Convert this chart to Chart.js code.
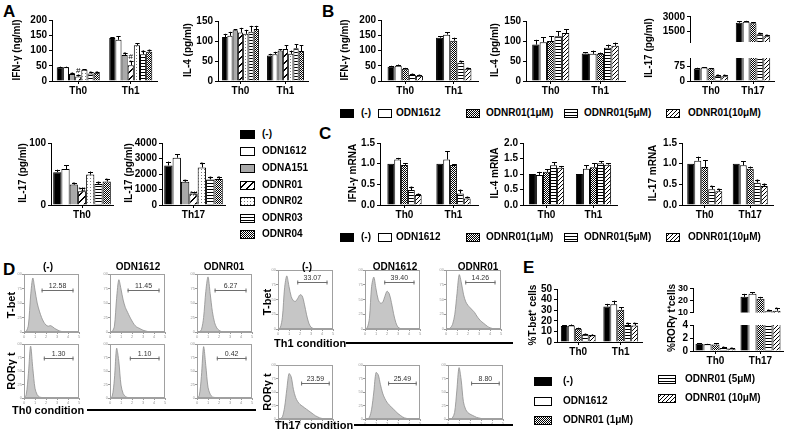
<!DOCTYPE html>
<html>
<head>
<meta charset="utf-8">
<script src="https://cdn.jsdelivr.net/npm/chart.js@4.4.0/dist/chart.umd.min.js"></script>
<style>
  body { margin: 0; background: #fff; font-family: "Liberation Sans", Arial, Helvetica, sans-serif; }
  #fig { position: relative; width: 786px; height: 435px; overflow: hidden; background: #fff; }
  #fig canvas { position: absolute; }
  .t { position: absolute; white-space: nowrap; color: #000; font-weight: bold; line-height: 1; }
  .letter { font-size: 17px; }
  .yt { font-size: 10px; transform: translate(-50%, -50%) rotate(-90deg); }
  .yd { font-size: 11px; transform: translate(-50%, -50%) rotate(-90deg); }
  .hd { font-size: 10px; transform: translate(-50%, -50%); }
  .lg { font-size: 10px; transform: translateY(-50%); }
  .cond { font-size: 11px; transform: translateY(-50%); }
  .rule { position: absolute; height: 2px; background: #000; }
</style>
</head>
<body>
<div id="fig"></div>
<script>
// ---------- data ----------
const groupsTh1  = ['Th0', 'Th1'];
const groupsTh17 = ['Th0', 'Th17'];
const seriesA = ['(-)', 'ODN1612', 'ODNA151', 'ODNR01', 'ODNR02', 'ODNR03', 'ODNR04'];
const seriesB = ['(-)', 'ODN1612', 'ODNR01(1μM)', 'ODNR01(5μM)', 'ODNR01(10μM)'];
const seriesE = ['(-)', 'ODN1612', 'ODNR01 (1μM)', 'ODNR01 (5μM)', 'ODNR01 (10μM)'];

// A  (one row per series, one value per group)
const aIfngVals = [[45, 141], [45, 135], [23, 85], [15, 52], [37, 117], [25, 88], [27, 96]];
const aIfngErrs = [[2, 3], [2, 12], [4, 8], [5, 12], [2, 7], [5, 12], [4, 5]];
const aIfngMarks = [['', ''], ['', ''], ['*', '*'], ['#\n*', '#\n*'], ['', ''], ['*', '*'], ['*', '*']];
const aIl4Vals = [[110, 64], [113, 67], [127, 76], [121, 80], [118, 68], [123, 82], [130, 75]];
const aIl4Errs = [[8, 4], [10, 6], [3, 4], [12, 10], [10, 8], [15, 10], [8, 15]];
const aIl17Th0Vals = [[53], [58], [33], [22], [49], [34], [38]];
const aIl17Th0Errs = [[4], [6], [3], [6], [5], [3], [4]];
const aIl17Th0Marks = [[''], [''], ['*'], ['*#'], [''], ['*'], ['*']];
const aIl17Th17Vals = [[2550], [3050], [1500], [750], [2420], [1650], [1680]];
const aIl17Th17Errs = [[250], [230], [100], [80], [300], [150], [150]];
const aIl17Th17Marks = [[''], [''], ['*'], ['*#'], ['*'], ['*'], ['*']];

// B
const bIfngVals = [[47, 142], [50, 152], [40, 132], [20, 60], [17, 40]];
const bIfngErrs = [[3, 5], [4, 8], [3, 10], [2, 4], [2, 3]];
const bIl4Vals = [[91, 69], [97, 68], [100, 68], [112, 83], [120, 88]];
const bIl4Errs = [[12, 3], [12, 8], [12, 3], [12, 8], [10, 8]];
const bIl17Vals = [[65, 2400], [70, 2500], [65, 2350], [28, 1200], [25, 1000]];
const bIl17Errs = [[4, 150], [3, 100], [3, 100], [5, 100], [4, 150]];

// C
const cIfngVals = [[1.0, 1.0], [1.1, 1.1], [0.97, 0.97], [0.36, 0.28], [0.24, 0.16]];
const cIfngErrs = [[0, 0], [0.04, 0.2], [0.04, 0.02], [0.07, 0.08], [0.03, 0.03]];
const cIl4Vals = [[1.0, 1.0], [0.97, 1.17], [1.07, 1.22], [1.28, 1.35], [1.2, 1.3]];
const cIl4Errs = [[0, 0], [0.1, 0.12], [0.08, 0.12], [0.1, 0.07], [0.06, 0.05]];
const cIl17Vals = [[1.0, 1.0], [1.07, 0.96], [0.92, 0.88], [0.38, 0.54], [0.33, 0.46]];
const cIl17Errs = [[0, 0], [0.1, 0.1], [0.16, 0.05], [0.07, 0.06], [0.06, 0.05]];

// E
const eTbetVals = [[15, 33.5], [15.5, 35.5], [12.5, 30.5], [7, 16], [6.5, 15.5]];
const eTbetErrs = [[0.8, 2.5], [1, 3.5], [1, 2.5], [0.5, 2], [0.5, 2]];
const eRorVals = [[1.1, 23], [1.05, 25.5], [1.0, 21.5], [0.45, 11.2], [0.4, 11.5]];
const eRorErrs = [[0.1, 2.5], [0.05, 1.5], [0.2, 1.5], [0.1, 0.8], [0.1, 2]];

// star on the two highest doses in B, C, E
const doseMarks = [['', ''], ['', ''], ['', ''], ['*', '*'], ['*', '*']];

// D  flow histograms (bin = log10 fluorescence)
const histBins = [0, 0.2, 0.4, 0.6, 0.8, 1, 1.2, 1.4, 1.6, 1.8, 2, 2.2, 2.4, 2.6, 2.8, 3, 3.2, 3.4, 3.6, 3.8, 4, 4.2, 4.4, 4.6, 4.8, 5];
const tbetTh0Neg  = [0, 1, 12, 62, 93, 72, 50, 36, 25, 17, 12, 10, 11, 9, 6, 4, 2, 1, 0, 0, 0, 0, 0, 0, 0, 0];
const tbetTh0Odn  = [0, 1, 10, 58, 90, 74, 55, 42, 34, 26, 19, 13, 9, 7, 5, 3, 2, 1, 0, 0, 0, 0, 0, 0, 0, 0];
const tbetTh0R01  = [0, 0, 4, 25, 70, 95, 66, 35, 16, 7, 3, 1, 0, 0, 0, 0, 0, 0, 0, 0, 0, 0, 0, 0, 0, 0];
const rorTh0Neg   = [0, 6, 45, 96, 55, 18, 6, 2, 1, 0, 0, 0, 0, 0, 0, 0, 0, 0, 0, 0, 0, 0, 0, 0, 0, 0];
const rorTh0Odn   = [0, 3, 35, 92, 68, 24, 8, 3, 1, 0, 0, 0, 0, 0, 0, 0, 0, 0, 0, 0, 0, 0, 0, 0, 0, 0];
const rorTh0R01   = [0, 4, 40, 95, 60, 20, 7, 2, 1, 0, 0, 0, 0, 0, 0, 0, 0, 0, 0, 0, 0, 0, 0, 0, 0, 0];
const tbetTh1Neg  = [0, 2, 20, 70, 90, 72, 55, 48, 47, 52, 58, 56, 42, 24, 10, 3, 1, 0, 0, 0, 0, 0, 0, 0, 0, 0];
const tbetTh1Odn  = [0, 2, 18, 72, 88, 68, 50, 44, 45, 55, 64, 60, 45, 26, 11, 3, 1, 0, 0, 0, 0, 0, 0, 0, 0, 0];
const tbetTh1R01  = [0, 0, 2, 8, 25, 60, 92, 78, 58, 46, 40, 36, 32, 28, 22, 17, 13, 10, 7, 4, 2, 1, 0, 0, 0, 0];
const rorTh17Neg  = [0, 0, 4, 22, 55, 84, 78, 55, 40, 32, 27, 24, 21, 18, 15, 12, 9, 6, 4, 2, 1, 0, 0, 0, 0, 0];
const rorTh17Odn  = [0, 0, 3, 18, 50, 86, 82, 64, 48, 38, 31, 26, 22, 18, 14, 10, 7, 4, 2, 1, 0, 0, 0, 0, 0, 0];
const rorTh17R01  = [0, 0, 2, 12, 52, 95, 72, 32, 18, 12, 9, 7, 5, 3, 2, 1, 0, 0, 0, 0, 0, 0, 0, 0, 0, 0];
const tbetTh0Pct  = ['12.58', '11.45', '6.27'];
const rorTh0Pct   = ['1.30', '1.10', '0.42'];
const tbetTh1Pct  = ['33.07', '39.40', '14.26'];
const rorTh17Pct  = ['23.59', '25.49', '8.80'];

// ---------- drawing ----------
const FONT = '"Liberation Sans", Arial, Helvetica, sans-serif';
Chart.defaults.font.family = FONT;
const fig = document.getElementById('fig');

function tile(w, h, paint) {
  const c = document.createElement('canvas');
  c.width = w; c.height = h;
  const g = c.getContext('2d');
  g.fillStyle = '#fff'; g.fillRect(0, 0, w, h);
  g.fillStyle = '#000';
  paint(g);
  return g.createPattern(c, 'repeat');
}

const fills = {
  black: '#000',
  white: '#fff',
  gray: '#a9a9a9',
  slash: tile(7, 7, g => { for (let i = 0; i < 7; i++) g.fillRect(i, 6 - i, 2, 1); g.fillRect(0, 0, 1, 1); }),
  dots: tile(3, 3, g => { g.fillStyle = '#7a7a7a'; g.fillRect(1, 1, 1, 1); }),
  hlines: tile(1, 3, g => g.fillRect(0, 0, 1, 1)),
  checker: tile(2, 2, g => { g.fillRect(0, 0, 1, 1); g.fillRect(1, 1, 1, 1); }),
  fine: tile(4, 4, g => { for (let i = 0; i < 4; i++) g.fillRect(i, 3 - i, 1, 1); })
};
const fillsA = ['black', 'white', 'gray', 'slash', 'dots', 'hlines', 'checker'];
const fillsB = ['black', 'white', 'checker', 'hlines', 'fine'];

// error bars + significance marks, placed with the y scale
const errorBars = {
  id: 'errorBars',
  afterDatasetsDraw(chart) {
    const { ctx, chartArea: a, scales: { y } } = chart;
    ctx.save();
    ctx.beginPath(); ctx.rect(a.left, 0, a.width, a.bottom); ctx.clip();
    ctx.strokeStyle = '#000'; ctx.fillStyle = '#000'; ctx.lineWidth = 1;
    ctx.font = '8px ' + FONT; ctx.textAlign = 'center';
    chart.data.datasets.forEach((ds, i) => {
      chart.getDatasetMeta(i).data.forEach((bar, j) => {
        const v = ds.data[j], e = ds.err[j];
        if (v > y.max || v < y.min) return;
        const y0 = y.getPixelForValue(v), y1 = y.getPixelForValue(v + e);
        const x = Math.round(bar.x) + 0.5, cw = Math.min(bar.width * 0.35, 2.5);
        if (e > 0) {
          ctx.beginPath();
          ctx.moveTo(x, y0); ctx.lineTo(x, y1);
          ctx.moveTo(x - cw, Math.round(y1) + 0.5); ctx.lineTo(x + cw, Math.round(y1) + 0.5);
          ctx.stroke();
        }
        const m = ds.marks && ds.marks[j];
        if (m) m.split('\n').reverse().forEach((t, k) => ctx.fillText(t, bar.x, y1 + 4 - k * 6));
      });
    });
    ctx.restore();
  }
};

const YW = 31, PT = 7, PR = 3, XH = 14, XH_HIDDEN = 7;
function barChart(o) {
  const showX = o.showX !== false;
  const xh = showX ? XH : XH_HIDDEN;
  const cv = document.createElement('canvas');
  cv.width = (o.xr - o.ax) + YW + PR;
  cv.height = (o.yb - o.yt) + PT + xh;
  cv.style.left = (o.ax - YW) + 'px';
  cv.style.top = (o.yt - PT) + 'px';
  fig.appendChild(cv);
  const tickFont = { size: 10, weight: 'bold' };
  new Chart(cv, {
    type: 'bar',
    data: {
      labels: o.groups,
      datasets: o.vals.map((v, i) => ({
        label: o.series[i],
        data: v,
        err: o.errs[i],
        marks: o.marks ? o.marks[i] : null,
        backgroundColor: fills[o.fills[i]],
        borderColor: '#000',
        borderWidth: 1,
        clip: 0,
        categoryPercentage: o.cat,
        barPercentage: 1
      }))
    },
    options: {
      responsive: false,
      animation: false,
      layout: { padding: { top: PT, right: PR, bottom: 0, left: 0 } },
      plugins: { legend: { display: false }, tooltip: { enabled: false } },
      scales: {
        x: {
          grid: { display: showX, drawOnChartArea: false, offset: false, tickLength: 3, color: '#000' },
          border: { display: showX, color: '#000', width: 1 },
          ticks: { display: showX, font: tickFont, color: '#000', padding: 1, maxRotation: 0 },
          afterFit: s => { s.height = xh; }
        },
        y: {
          min: o.min || 0,
          max: o.max,
          afterBuildTicks: s => { s.ticks = o.ticks.map(v => ({ value: v })); },
          grid: { drawOnChartArea: false, tickLength: 3, color: '#000' },
          border: { color: '#000', width: 1 },
          ticks: { font: o.tickFont || tickFont, color: '#000', padding: 2, autoSkip: false, callback: o.fmt || (v => v) },
          afterFit: s => { s.width = YW; }
        }
      }
    },
    plugins: [errorBars]
  });
}

// histogram frame + gate
const histDeco = {
  id: 'histDeco',
  afterDatasetsDraw(chart, args, g) {
    const { ctx, chartArea: a, scales: { x, y } } = chart;
    ctx.save();
    ctx.strokeStyle = '#a0a0a0'; ctx.lineWidth = 1;
    ctx.strokeRect(a.left + 0.5, a.top + 0.5, a.width - 1, a.height - 1);
    const x1 = x.getPixelForValue(g.from), x2 = x.getPixelForValue(g.to);
    const yy = Math.round(y.getPixelForValue(g.level)) + 0.5;
    ctx.strokeStyle = '#6e6e6e';
    ctx.beginPath();
    ctx.moveTo(x1, yy); ctx.lineTo(x2, yy);
    ctx.moveTo(x1 + 0.5, yy - 2); ctx.lineTo(x1 + 0.5, yy + 2);
    ctx.moveTo(x2 - 0.5, yy - 2); ctx.lineTo(x2 - 0.5, yy + 2);
    ctx.stroke();
    ctx.fillStyle = '#333'; ctx.font = '7px ' + FONT; ctx.textAlign = 'center';
    ctx.fillText(g.text, (x1 + x2) / 2, yy - 3);
    ctx.restore();
  }
};

function histChart(box, counts, gate) {
  const [bx, by, bw, bh] = box;
  const HL = 7, HB = 6, HT = 3, HR = 2;
  const cv = document.createElement('canvas');
  cv.width = bw + HL + HR; cv.height = bh + HT + HB;
  cv.style.left = (bx - HL) + 'px'; cv.style.top = (by - HT) + 'px';
  fig.appendChild(cv);
  const tiny = { font: { size: 4 }, color: '#999', padding: 0, maxRotation: 0 };
  new Chart(cv, {
    type: 'line',
    data: {
      datasets: [{
        data: histBins.map((b, i) => ({ x: b, y: counts[i] })),
        fill: 'origin',
        backgroundColor: '#c6c6c6',
        borderColor: '#8e8e8e',
        borderWidth: 0.8,
        pointRadius: 0,
        tension: 0.3
      }]
    },
    options: {
      responsive: false,
      animation: false,
      layout: { padding: { top: HT, right: HR } },
      plugins: { legend: { display: false }, tooltip: { enabled: false }, histDeco: gate },
      scales: {
        x: { type: 'linear', min: 0, max: 5, ticks: { ...tiny, stepSize: 1 },
             grid: { drawOnChartArea: false, tickLength: 2, color: '#999' }, border: { color: '#a0a0a0' },
             afterFit: s => { s.height = HB; } },
        y: { min: 0, max: 100, ticks: { ...tiny, stepSize: 25 },
             grid: { drawOnChartArea: false, tickLength: 2, color: '#999' }, border: { color: '#a0a0a0' },
             afterFit: s => { s.width = HL; } }
      }
    },
    plugins: [histDeco]
  });
}

function text(cls, str, x, y) {
  const d = document.createElement('div');
  d.className = 't ' + cls;
  d.textContent = str;
  d.style.left = x + 'px'; d.style.top = y + 'px';
  fig.appendChild(d);
}

function swatch(fill, x, yc, w, h) {
  const c = document.createElement('canvas');
  c.width = w; c.height = h;
  c.style.left = x + 'px'; c.style.top = Math.round(yc - h / 2) + 'px';
  const g = c.getContext('2d');
  g.fillStyle = fills[fill]; g.fillRect(0, 0, w, h);
  g.strokeStyle = '#000'; g.lineWidth = 1; g.strokeRect(0.5, 0.5, w - 1, h - 1);
  fig.appendChild(c);
}

function rule(x1, x2, y) {
  const d = document.createElement('div');
  d.className = 'rule';
  d.style.left = x1 + 'px'; d.style.top = (y - 1) + 'px'; d.style.width = (x2 - x1) + 'px';
  fig.appendChild(d);
}

// ---------- panel A ----------
barChart({ ax: 52, yt: 19, yb: 81, xr: 157, groups: groupsTh1, series: seriesA, vals: aIfngVals, errs: aIfngErrs,
  marks: aIfngMarks, fills: fillsA, max: 200, ticks: [0, 50, 100, 150, 200], cat: 0.82 });
barChart({ ax: 218, yt: 20, yb: 81, xr: 308, groups: groupsTh1, series: seriesA, vals: aIl4Vals, errs: aIl4Errs,
  fills: fillsA, max: 150, ticks: [0, 50, 100, 150], cat: 0.82 });
barChart({ ax: 51, yt: 142, yb: 205, xr: 113, groups: ['Th0'], series: seriesA, vals: aIl17Th0Vals, errs: aIl17Th0Errs,
  marks: aIl17Th0Marks, fills: fillsA, max: 100, ticks: [0, 100], cat: 0.93 });
barChart({ ax: 162, yt: 142, yb: 205, xr: 225, groups: ['Th17'], series: seriesA, vals: aIl17Th17Vals, errs: aIl17Th17Errs,
  marks: aIl17Th17Marks, fills: fillsA, max: 4000, ticks: [0, 1000, 2000, 3000, 4000], cat: 0.93 });

// ---------- panel B ----------
barChart({ ax: 381, yt: 19, yb: 81, xr: 478, groups: groupsTh1, series: seriesB, vals: bIfngVals, errs: bIfngErrs,
  marks: doseMarks, fills: fillsB, max: 200, ticks: [0, 50, 100, 150, 200], cat: 0.73 });
barChart({ ax: 526, yt: 20, yb: 81, xr: 625, groups: groupsTh1, series: seriesB, vals: bIl4Vals, errs: bIl4Errs,
  fills: fillsB, max: 150, ticks: [0, 50, 100, 150], cat: 0.75 });
barChart({ ax: 690, yt: 15, yb: 43, xr: 774, groups: groupsTh17, series: seriesB, vals: bIl17Vals, errs: bIl17Errs,
  marks: doseMarks, fills: fillsB, min: 400, max: 3100, ticks: [1500, 3000], cat: 0.82, showX: false });
barChart({ ax: 690, yt: 57, yb: 81, xr: 774, groups: groupsTh17, series: seriesB, vals: bIl17Vals, errs: bIl17Errs,
  marks: doseMarks, fills: fillsB, max: 120, ticks: [0, 75], cat: 0.82 });

// ---------- panel C ----------
const fmt1 = v => v.toFixed(1);
barChart({ ax: 380, yt: 142, yb: 205, xr: 478, groups: groupsTh1, series: seriesB, vals: cIfngVals, errs: cIfngErrs,
  marks: doseMarks, fills: fillsB, max: 1.5, ticks: [0, 0.5, 1, 1.5], fmt: fmt1, cat: 0.7 });
barChart({ ax: 523, yt: 142, yb: 205, xr: 617, groups: groupsTh1, series: seriesB, vals: cIl4Vals, errs: cIl4Errs,
  fills: fillsB, max: 2, ticks: [0, 0.5, 1, 1.5, 2], fmt: fmt1, cat: 0.75 });
barChart({ ax: 682, yt: 142, yb: 205, xr: 773, groups: groupsTh17, series: seriesB, vals: cIl17Vals, errs: cIl17Errs,
  marks: doseMarks, fills: fillsB, max: 1.5, ticks: [0, 0.5, 1, 1.5], fmt: fmt1, cat: 0.77 });

// ---------- panel E ----------
barChart({ ax: 557, yt: 288, yb: 342, xr: 642, groups: groupsTh1, series: seriesE, vals: eTbetVals, errs: eTbetErrs,
  marks: doseMarks, fills: fillsB, max: 50, ticks: [0, 10, 20, 30, 40, 50], cat: 0.82 });
barChart({ ax: 693, yt: 288, yb: 313, xr: 783, groups: groupsTh17, series: seriesE, vals: eRorVals, errs: eRorErrs,
  marks: doseMarks, fills: fillsB, min: 10, max: 30, ticks: [10, 20, 30], cat: 0.89, showX: false,
  tickFont: { size: 9, weight: 'bold' } });
barChart({ ax: 693, yt: 324, yb: 351, xr: 783, groups: groupsTh17, series: seriesE, vals: eRorVals, errs: eRorErrs,
  marks: doseMarks, fills: fillsB, max: 4, ticks: [0, 2, 4], cat: 0.89 });

// ---------- panel D ----------
const th0Cols = [24, 110, 197];
const th1Cols = [278, 365, 446];
const th17Cols = [278, 365, 448];
[tbetTh0Neg, tbetTh0Odn, tbetTh0R01].forEach((h, i) =>
  histChart([th0Cols[i], 274, 55, 58], h, { from: 1.6, to: 4.5, level: 72, text: tbetTh0Pct[i] }));
[rorTh0Neg, rorTh0Odn, rorTh0R01].forEach((h, i) =>
  histChart([th0Cols[i], 344, 55, 54], h, { from: 1.8, to: 4.5, level: 75, text: rorTh0Pct[i] }));
[tbetTh1Neg, tbetTh1Odn, tbetTh1R01].forEach((h, i) =>
  histChart([th1Cols[i], 270, 55, 59], h, { from: 1.75, to: 4.5, level: 80, text: tbetTh1Pct[i] }));
[rorTh17Neg, rorTh17Odn, rorTh17R01].forEach((h, i) =>
  histChart([th17Cols[i], 365, 55, 54], h, { from: 2.1, to: 4.7, level: 66, text: rorTh17Pct[i] }));

// ---------- text ----------
text('letter', 'A', 3, 3);
text('letter', 'B', 322, 3);
text('letter', 'C', 319, 125);
text('letter', 'D', 3, 261);
text('letter', 'E', 523, 259);

[['IFN-γ (ng/ml)', 17, 50], ['IL-4 (pg/ml)', 188, 50], ['IFN-γ (ng/ml)', 345, 50], ['IL-4 (pg/ml)', 495, 50],
 ['IL-17 (pg/ml)', 649, 48], ['IL-17 (pg/ml)', 23, 173], ['IL-17 (pg/ml)', 129, 173], ['IFN-γ mRNA', 353, 173],
 ['IL-4 mRNA', 495, 173], ['IL-17 mRNA', 653, 173], ['%T-bet⁺ cells', 533, 315], ['%RORγ t⁺cells', 672, 318]]
  .forEach(([s, x, y]) => text('yt', s, x, y));

[['T-bet', 11, 305], ['RORγ t', 11, 371], ['T-bet', 267, 302], ['RORγ t', 267, 392]]
  .forEach(([s, x, y]) => text('yd', s, x, y));

[['(-)', 48], ['ODN1612', 138], ['ODNR01', 224], ['(-)', 307], ['ODN1612', 395], ['ODNR01', 478]]
  .forEach(([s, x]) => text('hd', s, x, 267));

text('cond', 'Th0 condition', 12, 410); rule(87, 256, 410);
text('cond', 'Th1 condition', 274, 343); rule(346, 513, 343);
text('cond', 'Th17 condition', 275, 425); rule(354, 513, 425);

// legends
const legA = [134, 151, 168, 185, 201, 218, 234];
seriesA.forEach((s, i) => { swatch(fillsA[i], 240, legA[i], 15, 9); text('lg', s, 262, legA[i]); });
const legBx = [340, 378, 466, 564, 666];
const legBt = [361, 396, 486, 584, 688];
seriesB.forEach((s, i) => {
  swatch(fillsB[i], legBx[i], 113, 14, 9); text('lg', s, legBt[i], 113);
  swatch(fillsB[i], legBx[i], 237, 14, 9); text('lg', s, legBt[i], 237);
});
const legE = [[534, 381, 563], [534, 401, 563], [534, 420, 563], [658, 379, 685], [658, 398, 685]];
seriesE.forEach((s, i) => { const [x, y, tx] = legE[i]; swatch(fillsB[i], x, y, 18, 9); text('lg', s, tx, y); });
</script>
</body>
</html>
